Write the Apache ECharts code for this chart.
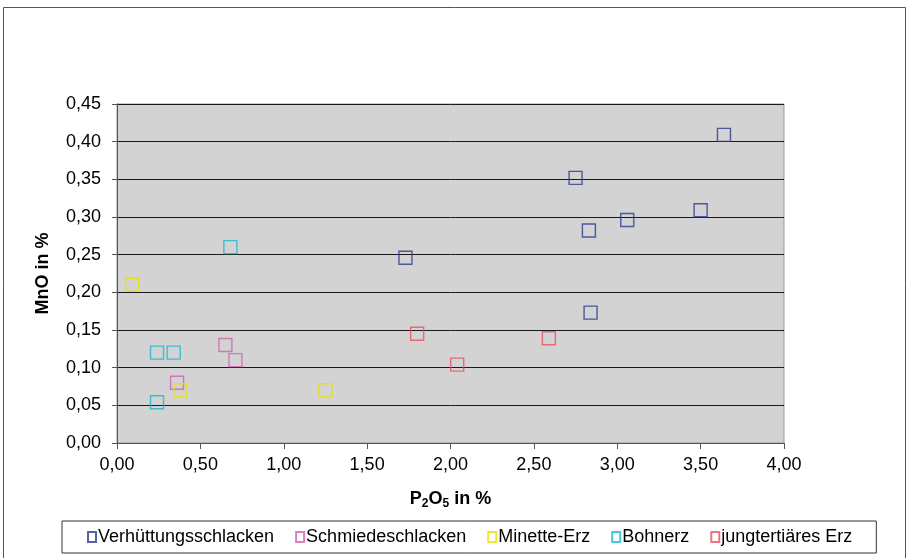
<!DOCTYPE html>
<html>
<head>
<meta charset="utf-8">
<script src="https://cdn.jsdelivr.net/npm/echarts@6/dist/echarts.min.js"></script>
<style>
  html, body { margin: 0; padding: 0; background: #fff; }
  #chart { width: 909px; height: 558px; }
</style>
</head>
<body>
<div id="chart"></div>
<script>
// Werte: [P2O5 %, MnO %]
var verhuettung = [[1.73, 0.246], [2.75, 0.352], [2.83, 0.282], [2.84, 0.173], [3.06, 0.296], [3.50, 0.309], [3.64, 0.409]];
var schmiede = [[0.36, 0.080], [0.65, 0.130], [0.71, 0.110]];
var minette = [[0.09, 0.210], [0.38, 0.070], [1.25, 0.070]];
var bohnerz = [[0.24, 0.054], [0.24, 0.120], [0.34, 0.120], [0.68, 0.260]];
var jungtertiaer = [[1.80, 0.145], [2.04, 0.104], [2.59, 0.139]];

var seriesNames = ['Verhüttungsschlacken', 'Schmiedeschlacken', 'Minette-Erz', 'Bohnerz', 'jungtertiäres Erz'];
var seriesData = [verhuettung, schmiede, minette, bohnerz, jungtertiaer];
var seriesColors = ['#2b3990', '#d060b4', '#e8e000', '#18b8d0', '#e85060'];

var fontFam = '"Liberation Sans", Arial, sans-serif';

function fmt(v) {
  return v.toFixed(2).replace('.', ',');
}

var chart = echarts.init(document.getElementById('chart'));

var series = seriesNames.map(function (name, i) {
  return {
    name: name,
    type: 'scatter',
    symbol: 'rect',
    symbolSize: 13,
    data: seriesData[i],
    itemStyle: { color: 'transparent', borderColor: seriesColors[i], borderWidth: 1.4 }
  };
});

chart.setOption({
  backgroundColor: '#fff',
  animation: false,
  graphic: [{
    type: 'rect',
    shape: { x: 3.5, y: 7.5, width: 902, height: 560 },
    style: { fill: 'none', stroke: '#555', lineWidth: 1 },
    silent: true
  }],
  grid: {
    left: 117, right: 125, top: 104, bottom: 115,
    show: true, backgroundColor: '#d3d3d3', borderColor: '#999', borderWidth: 1
  },
  legend: {
    left: 62, top: 521,
    padding: [7, 24, 7, 25],
    itemGap: 21,
    itemWidth: 8, itemHeight: 10,
    icon: 'rect',
    borderColor: '#333', borderWidth: 1,
    textStyle: { fontFamily: fontFam, fontSize: 18, color: '#000', padding: [0, 0, 0, -3] }
  },
  xAxis: {
    type: 'value', min: 0, max: 4, interval: 0.5,
    name: '{b|P}{s|2}{b|O}{s|5}{b| in %}',
    nameLocation: 'middle', nameGap: 45,
    nameTextStyle: {
      rich: {
        b: { fontFamily: fontFam, fontSize: 18, fontWeight: 'bold', color: '#000', lineHeight: 22 },
        s: { fontFamily: fontFam, fontSize: 12, fontWeight: 'bold', color: '#000', lineHeight: 22, verticalAlign: 'bottom', padding: [8, 0, 0, 0] }
      }
    },
    axisLine: { onZero: false, lineStyle: { color: '#555', width: 1 } },
    axisTick: { show: true, length: 6, lineStyle: { color: '#555' } },
    axisLabel: { formatter: fmt, fontFamily: fontFam, fontSize: 18, color: '#000', margin: 13 },
    splitLine: { show: false }
  },
  yAxis: {
    type: 'value', min: 0, max: 0.45, interval: 0.05,
    name: 'MnO in %',
    nameLocation: 'middle', nameGap: 65, nameRotate: 90,
    nameTextStyle: { fontFamily: fontFam, fontSize: 18, fontWeight: 'bold', color: '#000' },
    axisLine: { show: true, lineStyle: { color: '#555', width: 1 } },
    axisTick: { show: true, length: 5, lineStyle: { color: '#555' } },
    axisLabel: { formatter: fmt, fontFamily: fontFam, fontSize: 18, color: '#000', margin: 16 },
    splitLine: { show: true, lineStyle: { color: '#1a1a1a', width: 1 } }
  },
  series: series
});
</script>
</body>
</html>
